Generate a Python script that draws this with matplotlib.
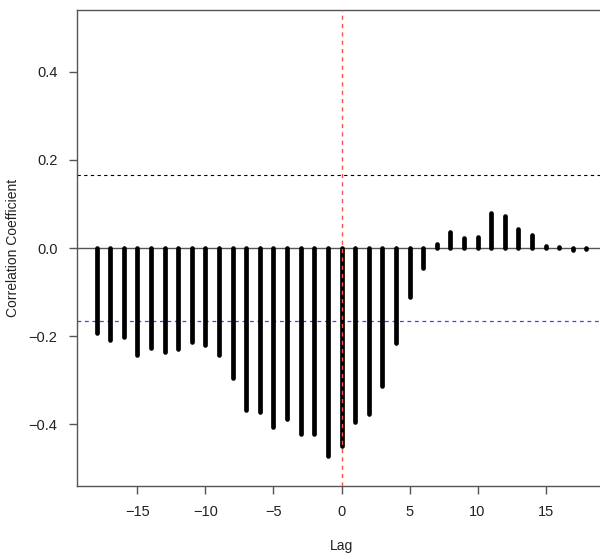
import numpy as np
import matplotlib.pyplot as plt

plt.rcParams['font.family'] = ['Liberation Sans', 'DejaVu Sans']

# Cross-correlation values per lag
lags = list(range(-18, 19))
ccf = [-0.192, -0.208, -0.201, -0.243, -0.227, -0.235, -0.230, -0.214, -0.220,
       -0.243, -0.294, -0.368, -0.372, -0.405, -0.387, -0.423, -0.422, -0.471,
       -0.449, -0.395, -0.377, -0.314, -0.215, -0.112, -0.046,
       0.010, 0.036, 0.023, 0.026, 0.079, 0.073, 0.042, 0.030,
       0.004, 0.003, -0.004, -0.003]
conf_upper = 0.165
conf_lower = -0.165

fig = plt.figure(figsize=(6, 5.59), dpi=100)
ax = fig.add_axes([77 / 600, 1 - 486 / 559, 529 / 600, 476 / 559])

ax.axhline(0, color='#555555', lw=1.0, zorder=1)
ax.vlines(lags, 0, ccf, colors='black', lw=3.4, capstyle='round', zorder=3)
ax.axhline(conf_upper, color='black', lw=0.8, ls=(0, (3, 3)), zorder=2)
ax.axhline(conf_lower, color='#4040ff', lw=0.9, ls=(0, (3, 3)), zorder=2)
ax.axvline(0, color='#ff4d4d', lw=1.0, ls=(0, (3, 3)), zorder=4)

ax.set_xlim(-19.44, 19.44)
ax.set_ylim(-0.54, 0.54)
ax.set_xticks([-15, -10, -5, 0, 5, 10, 15])
ax.set_yticks([-0.4, -0.2, 0.0, 0.2, 0.4])
ax.set_xticklabels(['\u221215', '\u221210', '\u22125', '0', '5', '10', '15'])
ax.set_yticklabels(['\u22120.4', '\u22120.2', '0.0', '0.2', '0.4'])

for s in ax.spines.values():
    s.set_color('#555555')
    s.set_linewidth(1.0)
ax.tick_params(direction='out', length=6, width=1.0, color='#555555',
               labelsize=10.5, labelcolor='#222222', pad=8)

ax.set_xlabel('Lag', fontsize=10, color='#222222', labelpad=14)
ax.set_ylabel('Correlation Coefficient', fontsize=10, color='#222222', labelpad=6)

fig.savefig('out.png', dpi=100)
